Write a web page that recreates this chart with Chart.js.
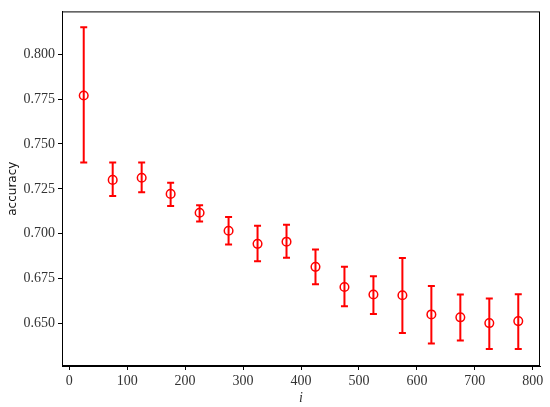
<!DOCTYPE html>
<html>
<head>
<meta charset="utf-8">
<script src="https://cdn.jsdelivr.net/npm/chart.js@4"></script>
<style>
  html, body { margin: 0; padding: 0; background: #fff; }
  #wrap { width: 550px; height: 407px; }
</style>
</head>
<body>
<div id="wrap"><canvas id="mycanvas" width="550" height="407"></canvas></div>
<script>
// data
var xs = [25, 75, 125, 175, 225, 275, 325, 375, 425, 475, 525, 575, 625, 675, 725, 775];
var acc = [0.777, 0.730, 0.7312, 0.7222, 0.7117, 0.7017, 0.6944, 0.6956, 0.6816, 0.6704, 0.6662, 0.6658, 0.6551, 0.6535, 0.6503, 0.6514];
var accLow = [0.7397, 0.7211, 0.7231, 0.7154, 0.7069, 0.6940, 0.6847, 0.6866, 0.6719, 0.6597, 0.6553, 0.6448, 0.6389, 0.6406, 0.6359, 0.6359];
var accHigh = [0.815, 0.7397, 0.7397, 0.7284, 0.7159, 0.7093, 0.7045, 0.7050, 0.6912, 0.6816, 0.6763, 0.6865, 0.6709, 0.6662, 0.6640, 0.6664];
var xTicks = [0, 100, 200, 300, 400, 500, 600, 700, 800];
var yTicks = [0.650, 0.675, 0.700, 0.725, 0.750, 0.775, 0.800];

var points = [];
for (var i in xs) {
  points.push({x: xs[i], y: acc[i], lo: accLow[i], hi: accHigh[i]});
}

var errorBars = {
  id: 'errorBars',
  beforeDatasetsDraw: function(chart) {
    var ctx = chart.ctx;
    var sx = chart.scales.x, sy = chart.scales.y;
    ctx.save();
    ctx.strokeStyle = '#ff0000';
    ctx.lineWidth = 2;
    for (var i in points) {
      var px = sx.getPixelForValue(points[i].x);
      var top = sy.getPixelForValue(points[i].hi);
      var bot = sy.getPixelForValue(points[i].lo);
      ctx.beginPath();
      ctx.moveTo(px, top); ctx.lineTo(px, bot);
      ctx.moveTo(px - 3.5, top); ctx.lineTo(px + 3.5, top);
      ctx.moveTo(px - 3.5, bot); ctx.lineTo(px + 3.5, bot);
      ctx.stroke();
    }
    ctx.restore();
  },
  afterDraw: function(chart) {
    var a = chart.chartArea, ctx = chart.ctx;
    ctx.save();
    ctx.strokeStyle = '#000';
    ctx.lineWidth = 1;
    ctx.strokeRect(a.left + 0.5, a.top + 0.5, a.right - a.left - 1, a.bottom - a.top - 1);
    ctx.restore();
  }
};

var tickFont = {family: '"Liberation Serif", serif', size: 14};

new Chart(document.getElementById('mycanvas'), {
  type: 'scatter',
  data: {
    datasets: [{
      label: 'accuracy',
      data: points,
      borderColor: '#ff0000',
      backgroundColor: 'rgba(0,0,0,0)',
      pointRadius: 4.3,
      pointHoverRadius: 4.3,
      pointBorderWidth: 1.5,
      showLine: false
    }]
  },
  options: {
    responsive: false,
    animation: false,
    events: [],
    layout: {padding: {top: 8, right: 10, left: 0, bottom: 0}},
    plugins: {legend: {display: false}, tooltip: {enabled: false}},
    scales: {
      x: {
        type: 'linear',
        min: -12.5,
        max: 812.5,
        afterBuildTicks: function(s) { s.ticks = xTicks.map(function(v) { return {value: v}; }); },
        afterFit: function(s) { s.height = 41; },
        grid: {drawOnChartArea: false, tickLength: 4, color: '#000'},
        border: {display: true, color: '#000'},
        ticks: {color: '#333', font: tickFont, padding: 3, maxRotation: 0},
        title: {display: true, text: 'i', color: '#333', font: {family: '"Liberation Serif", serif', size: 14, style: 'italic'}, padding: {top: 0, bottom: 0}}
      },
      y: {
        min: 0.6264,
        max: 0.8238,
        afterBuildTicks: function(s) { s.ticks = yTicks.map(function(v) { return {value: v}; }); },
        afterFit: function(s) { s.width = 62; },
        grid: {drawOnChartArea: false, tickLength: 4, color: '#000'},
        border: {display: true, color: '#000'},
        ticks: {color: '#333', font: tickFont, padding: 3, callback: function(v) { return v.toFixed(3); }},
        title: {display: true, text: 'accuracy', color: '#111', font: {family: '"DejaVu Sans", sans-serif', size: 12}, padding: {top: 6, bottom: 0}}
      }
    }
  },
  plugins: [errorBars]
});
</script>
</body>
</html>
